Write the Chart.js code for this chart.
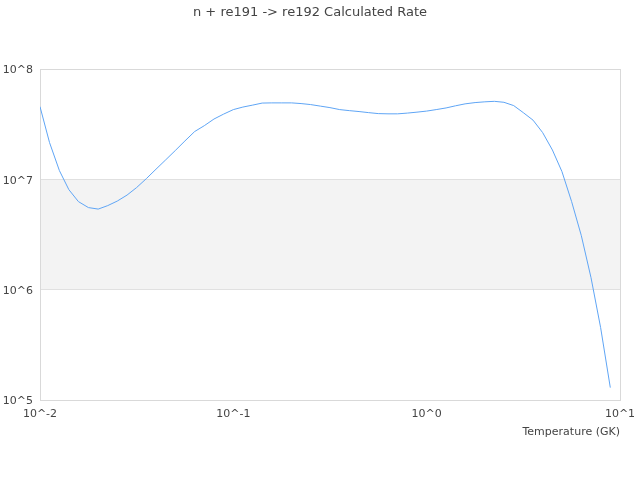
<!DOCTYPE html>
<html>
<head>
<meta charset="utf-8">
<script src="https://cdn.jsdelivr.net/npm/chart.js@4.4.0/dist/chart.umd.min.js"></script>
<style>
  body { margin: 0; background: #fff; }
</style>
</head>
<body>
<canvas id="rateGraph" width="640" height="480"></canvas>
<script>
// temperature grid (GK) and calculated rate
var temperature = [0.01, 0.0112, 0.0126, 0.0141, 0.0158, 0.0178, 0.02, 0.0224, 0.0251, 0.0282,
                   0.0316, 0.0355, 0.0398, 0.0447, 0.0501, 0.0562, 0.0631, 0.0708, 0.0794, 0.0891,
                   0.1, 0.112, 0.126, 0.141, 0.158, 0.178, 0.2, 0.224, 0.251, 0.282,
                   0.316, 0.355, 0.398, 0.447, 0.501, 0.562, 0.631, 0.708, 0.794, 0.891,
                   1, 1.12, 1.26, 1.41, 1.58, 1.78, 2, 2.24, 2.51, 2.82,
                   3.16, 3.55, 3.98, 4.47, 5.01, 5.62, 6.31, 7.08, 7.94, 8.91];
var rate = [4.52e7, 2.14e7, 1.19e7, 8.0e6, 6.23e6, 5.5e6, 5.33e6, 5.73e6, 6.3e6, 7.14e6,
            8.35e6, 1.007e7, 1.225e7, 1.49e7, 1.81e7, 2.21e7, 2.69e7, 3.04e7, 3.49e7, 3.87e7,
            4.25e7, 4.48e7, 4.67e7, 4.87e7, 4.89e7, 4.89e7, 4.89e7, 4.82e7, 4.72e7, 4.57e7,
            4.43e7, 4.25e7, 4.16e7, 4.08e7, 3.99e7, 3.91e7, 3.89e7, 3.89e7, 3.95e7, 4.03e7,
            4.12e7, 4.25e7, 4.4e7, 4.6e7, 4.79e7, 4.92e7, 5.0e7, 5.05e7, 4.95e7, 4.62e7,
            3.99e7, 3.41e7, 2.63e7, 1.83e7, 1.165e7, 6.23e6, 3.06e6, 1.275e6, 4.49e5, 1.284e5];
var xTicks = [0.01, 0.1, 1, 10];
var yTicks = [1e5, 1e6, 1e7, 1e8];

var points = [];
for (var i = 0; i < temperature.length; i++) {
    points.push({x: temperature[i], y: rate[i]});
}

function powLabel(v) {
    return '10^' + Math.round(Math.log10(v));
}

// grey band between 10^6 and 10^7 plus the frame round the plot
var bandPlugin = {
    id: 'bands',
    beforeDatasetsDraw: function(chart) {
        var ctx = chart.ctx, a = chart.chartArea, y = chart.scales.y;
        ctx.save();
        ctx.fillStyle = '#f3f3f3';
        var top = y.getPixelForValue(1e7), bot = y.getPixelForValue(1e6);
        ctx.fillRect(a.left, top, a.right - a.left, bot - top);
        ctx.strokeStyle = '#e0e0e0';
        ctx.lineWidth = 1;
        ctx.beginPath();
        ctx.moveTo(a.left, Math.round(top) + 0.5); ctx.lineTo(a.right, Math.round(top) + 0.5);
        ctx.moveTo(a.left, Math.round(bot) + 0.5); ctx.lineTo(a.right, Math.round(bot) + 0.5);
        ctx.stroke();
        ctx.strokeStyle = '#d9d9d9';
        ctx.strokeRect(Math.round(a.left) + 0.5, Math.round(a.top) + 0.5,
                       Math.round(a.right - a.left), Math.round(a.bottom - a.top));
        ctx.restore();
    }
};

Chart.defaults.font.family = 'DejaVu Sans';
Chart.defaults.font.size = 11;
Chart.defaults.color = '#444';

var rateConfig = {
    type: 'line',
    data: {
        datasets: [{
            data: points,
            borderColor: 'rgb(95,165,245)',
            borderWidth: 1,
            pointRadius: 0,
            tension: 0,
            fill: false
        }]
    },
    options: {
        responsive: false,
        animation: false,
        devicePixelRatio: 1,
        layout: { padding: { left: 0, right: 20, top: 0, bottom: 37 } },
        plugins: {
            legend: { display: false },
            tooltip: { enabled: false },
            title: {
                display: true,
                text: 'n + re191 -> re192 Calculated Rate',
                font: { size: 13, weight: 'normal' },
                padding: { top: 5, bottom: 48 }
            }
        },
        scales: {
            x: {
                type: 'logarithmic',
                min: 0.01,
                max: 10,
                afterBuildTicks: function(axis) {
                    axis.ticks = xTicks.map(function(v) { return {value: v}; });
                },
                afterFit: function(axis) { axis.paddingLeft = 0; axis.paddingRight = 0; },
                ticks: { callback: powLabel, maxRotation: 0, padding: 8, autoSkip: false },
                grid: { display: false, drawTicks: false },
                border: { display: false },
                title: {
                    display: true,
                    text: 'Temperature (GK)',
                    align: 'end',
                    padding: { top: -3, bottom: 4 }
                }
            },
            y: {
                type: 'logarithmic',
                min: 1e5,
                max: 1e8,
                afterBuildTicks: function(axis) {
                    axis.ticks = yTicks.map(function(v) { return {value: v}; });
                },
                afterFit: function(axis) { axis.width = 40; },
                ticks: { callback: powLabel, padding: 7, labelOffset: 2, autoSkip: false },
                grid: { display: false, drawTicks: false },
                border: { display: false }
            }
        }
    },
    plugins: [bandPlugin]
};

var rateCtx = document.getElementById('rateGraph');
var rateChart = new Chart(rateCtx, rateConfig);
</script>
</body>
</html>
